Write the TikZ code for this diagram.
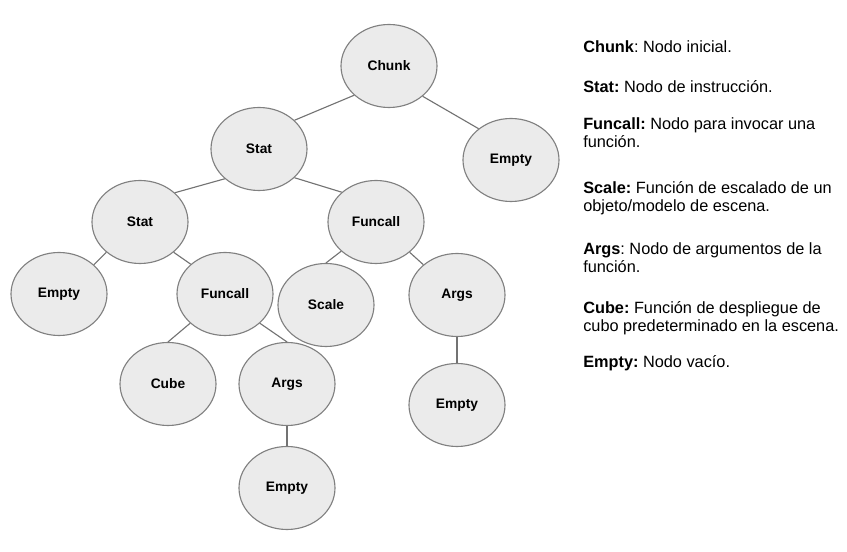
\documentclass[tikz,border=0pt]{standalone}
\usepackage{fontspec}
\setmainfont{Liberation Sans}
\usetikzlibrary{shapes.geometric}
\frenchspacing

\begin{document}
\begin{tikzpicture}[
	tnode/.style={ellipse, draw=black!50, fill=black!8, line width=0.8pt,
		minimum width=2.4cm, minimum height=2.075cm, inner sep=0pt,
		font=\fontsize{9.8}{11}\selectfont\bfseries},
	edge/.style={draw=black!55, line width=0.8pt},
	legend/.style={anchor=base west, align=left, inner sep=0pt,
		font=\fontsize{11.6}{13.5}\selectfont}
]
	\useasboundingbox (0,0) rectangle (21.175,13.8);

	% Root and first level
	\node[tnode] (chunk) at (9.725,12.15) {Chunk};
	\node[tnode] (stat) at (6.475,10.075) {Stat};
	\node[tnode] (emptyr) at (12.775,9.8) {Empty};

	% Second level
	\node[tnode] (stattwo) at (3.5,8.25) {Stat};
	\node[tnode] (funcall) at (9.4,8.25) {Funcall};

	% Third level
	\node[tnode] (emptyl) at (1.475,6.45) {Empty};
	\node[tnode] (funcalltwo) at (5.625,6.45) {Funcall};
	\node[tnode] (scale) at (8.15,6.175) {Scale};
	\node[tnode] (argsr) at (11.425,6.425) {Args};

	% Leaves
	\node[tnode] (cube) at (4.2,4.2) {Cube};
	\node[tnode] (argsm) at (7.175,4.2) {Args};
	\node[tnode] (emptyb) at (7.175,1.6) {Empty};
	\node[tnode] (emptyrb) at (11.425,3.675) {Empty};

	% Edges
	\draw[edge] (chunk.220) -- (stat.39);
	\draw[edge] (chunk.318) -- (emptyr.136);
	\draw[edge] (stat.221) -- (stattwo.40);
	\draw[edge] (stat.321) -- (funcall.139);
	\draw[edge] (stattwo.222) -- (emptyl.40);
	\draw[edge] (stattwo.318) -- (funcalltwo.139);
	\draw[edge] (funcall.220) -- (scale.north);
	\draw[edge] (funcall.318) -- (argsr.138);
	\draw[edge] (funcalltwo.220) -- (cube.north);
	\draw[edge] (funcalltwo.320) -- (argsm.north);
	\draw[edge] (argsm.south) -- (emptyb.north);
	\draw[edge] (argsr.south) -- (emptyrb.north);

	% Legend (base = last line)
	\node[legend] (lchunk) at (14.575,12.475) {\textbf{Chunk}: Nodo inicial.};
	\node[legend] (lstat) at (14.575,11.475) {\textbf{Stat:} Nodo de instrucción.};
	\node[legend] (lfuncall) at (14.575,10.1) {\textbf{Funcall:} Nodo para invocar una\\función.};
	\node[legend] (lscale) at (14.575,8.5) {\textbf{Scale:} Función de escalado de un\\objeto/modelo de escena.};
	\node[legend] (largs) at (14.575,6.975) {\textbf{Args}: Nodo de argumentos de la\\función.};
	\node[legend] (lcube) at (14.575,5.5) {\textbf{Cube:} Función de despliegue de\\cubo predeterminado en la escena.};
	\node[legend] (lempty) at (14.575,4.6) {\textbf{Empty:} Nodo vacío.};

\end{tikzpicture}
\end{document}
